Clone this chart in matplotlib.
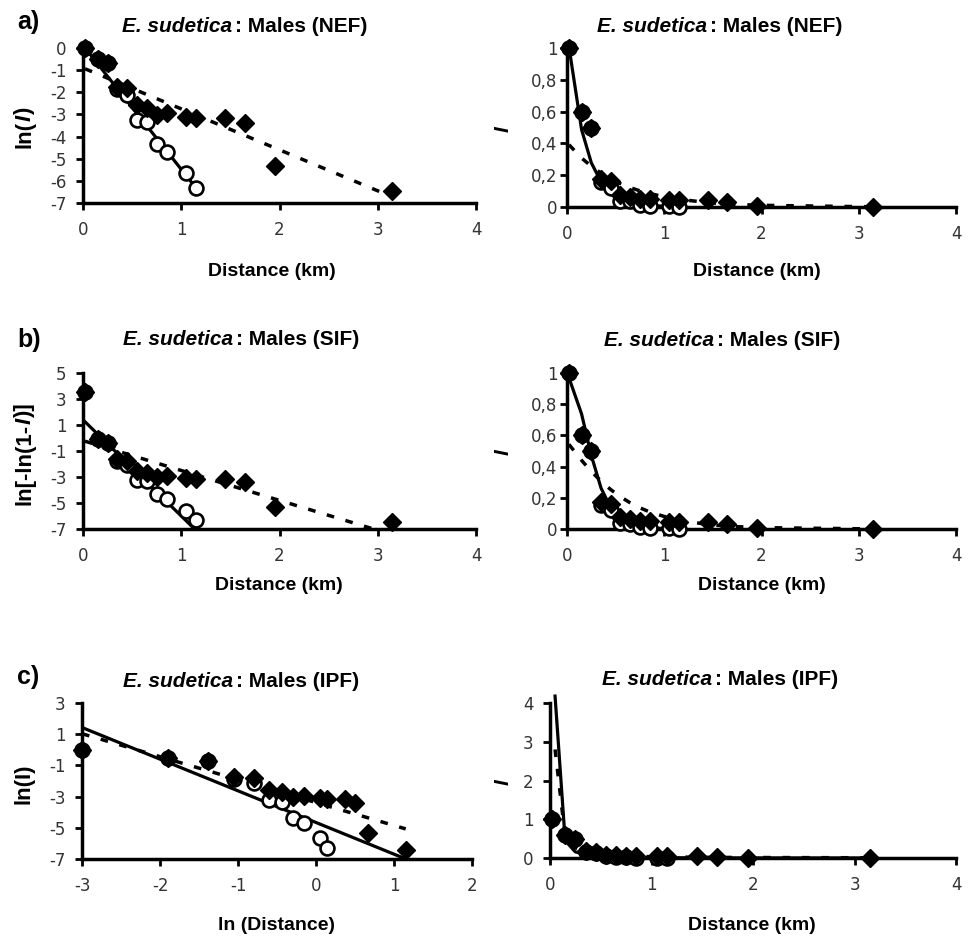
import numpy as np
import matplotlib.pyplot as plt

plt.rcParams['font.family'] = ['Liberation Sans', 'DejaVu Sans']

W, H = 971, 940

# distance classes (km), same for both data sets; the first class sits at -3 on the ln axis
dist = [0.02, 0.15, 0.25, 0.35, 0.45, 0.55, 0.65, 0.75, 0.85, 1.05, 1.15, 1.45, 1.65, 1.95, 3.15]
ln_dist = [-3.0, -1.9, -1.39, -1.05, -0.8, -0.6, -0.43, -0.29, -0.16, 0.05, 0.14, 0.37, 0.5, 0.67, 1.15]

# observed I : open circles (first 11 classes) and filled diamonds (all classes)
I_open = [1.0, 0.6, 0.5, 0.156, 0.122, 0.039, 0.035, 0.013, 0.0092, 0.0036, 0.0018]
I_fill = [1.0, 0.6, 0.5, 0.175, 0.162, 0.077, 0.066, 0.049, 0.052, 0.045, 0.042,
          0.042, 0.034, 0.0049, 0.0016]
sif_top = 3.5   # value drawn for I = 1 on the ln[-ln(1-I)] scale

# fitted lines: (intercept, slope)
nef_open = (0.12, -5.6)
nef_fill = (-0.9, -1.85)
sif_open = (1.4, -7.4)
sif_fill = (-0.2, -2.3)
ipf_open = (-4.66, -2.03)
ipf_fill = (-3.38, -1.47)

fig = plt.figure(figsize=(W / 100, H / 100), dpi=100)
top = fig.add_axes([0, 0, 1, 1])
top.set_xlim(0, W)
top.set_ylim(H, 0)
top.axis('off')


def px_axes(x0, x1, y0, y1):
    return fig.add_axes([x0 / W, 1 - y1 / H, (x1 - x0) / W, (y1 - y0) / H])


def style(ax, xlim, ylim, xticks, yticks, ylabels=None, ypad=7):
    ax.set_xlim(xlim)
    ax.set_ylim(ylim)
    ax.patch.set_visible(False)
    for s in ['top', 'right']:
        ax.spines[s].set_visible(False)
    for s in ['left', 'bottom']:
        ax.spines[s].set_linewidth(2.5)
    ax.set_xticks(xticks)
    ax.set_yticks(yticks)
    ax.set_xticklabels([str(t) for t in xticks], fontfamily='DejaVu Sans')
    ax.set_yticklabels(ylabels if ylabels else [str(t) for t in yticks], fontfamily='DejaVu Sans')
    ax.tick_params(direction='out', length=5, width=2, labelsize=12, labelcolor='#333333')
    ax.tick_params(axis='x', pad=8)
    ax.tick_params(axis='y', pad=ypad)


def points(ax, x_open, y_open, x_fill, y_fill):
    ax.plot(x_open, y_open, 'o', ms=10, mfc='white', mec='black', mew=1.9, clip_on=False, zorder=3)
    ax.plot(x_fill, y_fill, 'D', ms=9.3, color='black', clip_on=False, zorder=4)


def fits(ax, x_open, y_open, x_fill, y_fill, clip=True):
    ax.plot(x_open, y_open, '-', color='black', lw=2.3, zorder=2, clip_on=clip)
    ax.plot(x_fill, y_fill, color='black', lw=2.5, ls=(0, (2.2, 3.4)), zorder=2, clip_on=clip)


def rich(x, y, parts, size, rotation=0, ha='left', va='baseline'):
    t = top.text(x, y, parts[0][0], fontsize=size, fontweight='bold', fontstyle=parts[0][1],
                 rotation=rotation, ha=ha, va=va)
    for text, st in parts[1:]:
        t = top.annotate(text, xy=(0.5, 1), xycoords=t, ha='center', va='bottom', rotation=90,
                         fontsize=size, fontweight='bold', fontstyle=st)


def title(x_split, y, model):
    t = top.text(x_split, y, 'E. sudetica', fontsize=15, fontweight='bold', fontstyle='italic',
                 ha='right', va='baseline')
    top.annotate(': Males (%s)' % model, xy=(1, 0), xycoords=t, xytext=(2, 0), textcoords='offset points',
                 ha='left', va='bottom', fontsize=15, fontweight='bold')


d_open = np.array(dist[:len(I_open)])
d_fill = np.array(dist)
io = np.array(I_open)
iff = np.array(I_fill)
lnd = np.array(ln_dist)

# ---------- a) negative exponential ----------
ax = px_axes(83, 476, 48, 203)
style(ax, (0, 4), (-7, 0), [0, 1, 2, 3, 4], [0, -1, -2, -3, -4, -5, -6, -7])
yo = nef_open[0] + nef_open[1] * d_open
yf = nef_fill[0] + nef_fill[1] * d_fill
fits(ax, d_open, yo, d_fill, yf)
points(ax, d_open, np.log(io), d_fill, np.log(iff))

ax = px_axes(567, 956, 48, 207)
style(ax, (0, 4), (0, 1), [0, 1, 2, 3, 4], [0, 0.2, 0.4, 0.6, 0.8, 1],
      ['0', '0,2', '0,4', '0,6', '0,8', '1'], ypad=2)
fits(ax, d_open, np.exp(yo), d_fill, np.exp(yf))
points(ax, d_open, io, d_fill, iff)

# ---------- b) sigmoid ----------
def sif(i):
    out = np.full(len(i), sif_top)
    m = i < 1
    out[m] = np.log(-np.log(1 - i[m]))
    return out


ax = px_axes(83, 476, 373, 529)
style(ax, (0, 4), (-7, 5), [0, 1, 2, 3, 4], [5, 3, 1, -1, -3, -5, -7])
yo = sif_open[0] + sif_open[1] * d_open
yf = sif_fill[0] + sif_fill[1] * d_fill
fits(ax, d_open, yo, d_fill, yf)
points(ax, d_open, sif(io), d_fill, sif(iff))

ax = px_axes(567, 956, 373, 529)
style(ax, (0, 4), (0, 1), [0, 1, 2, 3, 4], [0, 0.2, 0.4, 0.6, 0.8, 1],
      ['0', '0,2', '0,4', '0,6', '0,8', '1'], ypad=2)
fits(ax, d_open, 1 - np.exp(-np.exp(yo)), d_fill, 1 - np.exp(-np.exp(yf)))
points(ax, d_open, io, d_fill, iff)

# ---------- c) inverse power ----------
ax = px_axes(82, 472, 703, 859)
style(ax, (-3, 2), (-7, 3), [-3, -2, -1, 0, 1, 2], [3, 1, -1, -3, -5, -7])
yo = ipf_open[0] + ipf_open[1] * lnd
yf = ipf_fill[0] + ipf_fill[1] * lnd
fits(ax, lnd, yo, lnd, yf)
points(ax, lnd[:len(I_open)], np.log(io), lnd, np.log(iff))

ax = px_axes(550, 956, 703, 858)
style(ax, (0, 4), (0, 4), [0, 1, 2, 3, 4], [0, 1, 2, 3, 4])
fits(ax, np.exp(lnd), np.exp(yo), np.exp(lnd), np.exp(yf), clip=False)
points(ax, d_open, io, d_fill, iff)

# ---------- text ----------
title(232, 32, 'NEF')
title(707, 32, 'NEF')
title(233, 345, 'SIF')
title(714, 346, 'SIF')
title(233, 687, 'IPF')
title(712, 685, 'IPF')

for letter, yb in [('a)', 29), ('b)', 347), ('c)', 684)]:
    top.text(17, yb, letter, fontsize=18, fontweight='bold', ha='left', va='baseline')

for xc, yc, s in [(272, 271, 'Distance (km)'), (757, 271, 'Distance (km)'),
                  (279, 585, 'Distance (km)'), (762, 585, 'Distance (km)'),
                  (277, 926, 'ln (Distance)'), (752, 926, 'Distance (km)')]:
    top.text(xc, yc, s, fontsize=14, fontweight='bold', ha='center', va='center')

rich(25, 148, [('ln(', 'normal'), ('I', 'italic'), (')', 'normal')], 16, rotation=90, ha='center', va='bottom')
rich(25, 505, [('ln[-ln(1-', 'normal'), ('I', 'italic'), (')]', 'normal')], 16, rotation=90, ha='center', va='bottom')
rich(24, 804, [('ln(I)', 'normal')], 16, rotation=90, ha='center', va='bottom')
for yc in [129, 452, 782]:
    top.text(503, yc, 'I', fontsize=15, fontweight='bold', fontstyle='italic', rotation=90,
             ha='center', va='center')

fig.savefig('out.png', dpi=100)
